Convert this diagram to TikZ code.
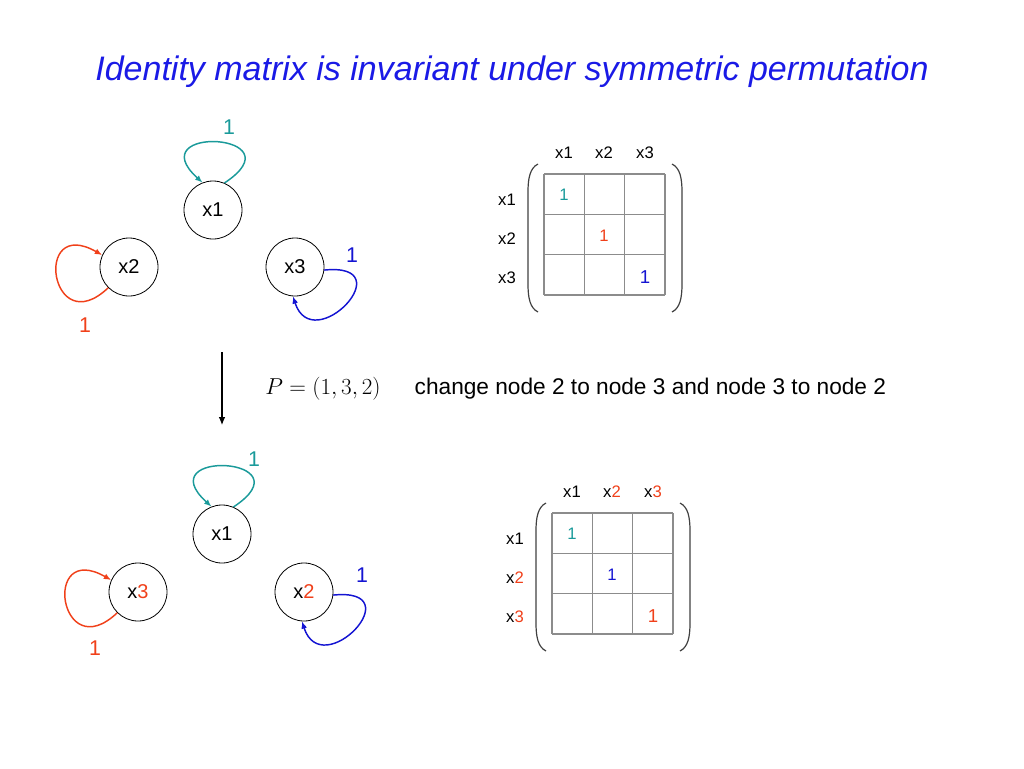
\documentclass[tikz,border=0pt]{standalone}
\usepackage{fontspec}
\setmainfont{Liberation Sans}
\usetikzlibrary{arrows.meta}
\definecolor{titleblue}{HTML}{1A1AE6}
\definecolor{loopteal}{HTML}{1A9A9A}
\definecolor{loopred}{HTML}{F0401A}
\definecolor{loopblue}{HTML}{1414D2}
\definecolor{gridgray}{HTML}{8C8C8C}
\begin{document}
\begin{tikzpicture}[x=0.75pt,y=-0.75pt,
  vertex/.style={circle,draw,line width=0.6pt,minimum size=43.5pt,inner sep=0pt,font=\fontsize{15}{18}\selectfont},
  selfloop/.style={line width=1.1pt,-{Latex[length=5.5pt,width=4.5pt]}},
  wt/.style={font=\fontsize{16}{19}\selectfont},
  lab/.style={font=\fontsize{12.5}{15}\selectfont},
  paren/.style={line width=0.9pt,black!75}]
\useasboundingbox (0,0) rectangle (1024,768);
\node[text=titleblue,font=\fontsize{25.5}{30}\selectfont\itshape] (title) at (512,72) {Identity matrix is invariant under symmetric permutation};

% graph before permutation
\node[vertex] (a1) at (213,210) {x1};
\node[vertex] (a2) at (129,267) {x2};
\node[vertex] (a3) at (295,267) {x3};
\draw[selfloop,loopteal] (a1.67) .. controls +(76,-50) and +(-64,-58) .. (a1.111);
\draw[selfloop,loopred] (a2.225) .. controls +(-58,55) and +(-70,-40) .. (a2.156);
\draw[selfloop,loopblue] (a3.354) .. controls +(80,-8) and +(20,62) .. (a3.266);
\node[wt,text=loopteal] (w1) at (229,127) {1};
\node[wt,text=loopred] (w2) at (85,325) {1};
\node[wt,text=loopblue] (w3) at (352,255) {1};

% matrix before
\begin{scope}
\foreach \k in {0,1,2,3} {
  \draw[gridgray,line width=0.8pt] (544+40.33*\k,174) -- +(0,121);
  \draw[gridgray,line width=0.8pt] (544,174+40.33*\k) -- +(121,0);
}
\draw[paren] (538,164) .. controls (530,168) and (528,178) .. (528,192) -- (528,284) .. controls (528,298) and (530,308) .. (538,312);
\draw[paren] (672,164) .. controls (680,168) and (682,178) .. (682,192) -- (682,284) .. controls (682,298) and (680,308) .. (672,312);
\node[lab] (c1) at (564,153) {x1};
\node[lab] (c2) at (604,153) {x2};
\node[lab] (c3) at (645,153) {x3};
\node[lab] (r1) at (507,200) {x1};
\node[lab] (r2) at (507,239) {x2};
\node[lab] (r3) at (507,278) {x3};
\node[lab,text=loopteal] (e11) at (564,195) {1};
\node[lab,text=loopred] (e22) at (604,236) {1};
\node[lab,text=loopblue,font=\fontsize{14}{16}\selectfont] (e33) at (645,277) {1};
\end{scope}

% permutation
\coordinate (arrtop) at (222,352);
\coordinate (arrbot) at (222,425);
\draw[line width=0.8pt,-{Latex[length=6pt,width=5pt]}] (arrtop) -- (arrbot);
\node (perm) at (323,389) {\fontsize{17}{20}\selectfont $P=\bigl(1,3,2\bigr)$};
\node[anchor=west,font=\fontsize{17}{20}\selectfont] (desc) at (410,389) {change node 2 to node 3 and node 3 to node 2};

% graph after permutation
\node[vertex] (b1) at (222,534) {x1};
\node[vertex] (b3) at (138,592) {x\textcolor{loopred}{3}};
\node[vertex] (b2) at (304,592) {x\textcolor{loopred}{2}};
\draw[selfloop,loopteal] (b1.67) .. controls +(76,-50) and +(-64,-58) .. (b1.111);
\draw[selfloop,loopred] (b3.225) .. controls +(-58,55) and +(-70,-40) .. (b3.156);
\draw[selfloop,loopblue] (b2.354) .. controls +(80,-8) and +(20,62) .. (b2.266);
\node[wt,text=loopteal] (v1) at (254,459) {1};
\node[wt,text=loopred] (v3) at (95,648) {1};
\node[wt,text=loopblue] (v2) at (362,575) {1};

% matrix after
\begin{scope}[shift={(8,339)}]
\foreach \k in {0,1,2,3} {
  \draw[gridgray,line width=0.8pt] (544+40.33*\k,174) -- +(0,121);
  \draw[gridgray,line width=0.8pt] (544,174+40.33*\k) -- +(121,0);
}
\draw[paren] (538,164) .. controls (530,168) and (528,178) .. (528,192) -- (528,284) .. controls (528,298) and (530,308) .. (538,312);
\draw[paren] (672,164) .. controls (680,168) and (682,178) .. (682,192) -- (682,284) .. controls (682,298) and (680,308) .. (672,312);
\node[lab] (d1) at (564,153) {x1};
\node[lab] (d2) at (604,153) {x\textcolor{loopred}{2}};
\node[lab] (d3) at (645,153) {x\textcolor{loopred}{3}};
\node[lab] (s1) at (507,200) {x1};
\node[lab] (s2) at (507,239) {x\textcolor{loopred}{2}};
\node[lab] (s3) at (507,278) {x\textcolor{loopred}{3}};
\node[lab,text=loopteal] (f11) at (564,195) {1};
\node[lab,text=loopblue] (f22) at (604,236) {1};
\node[lab,text=loopred,font=\fontsize{14}{16}\selectfont] (f33) at (645,277) {1};
\end{scope}
\end{tikzpicture}
\end{document}
